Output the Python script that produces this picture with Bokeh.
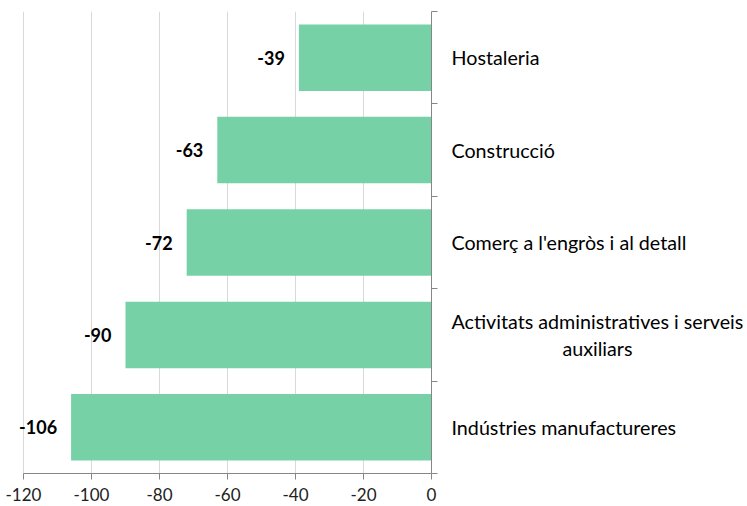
from bokeh.plotting import figure
from bokeh.models import FixedTicker, ColumnDataSource, Range1d
from bokeh.core.properties import value
from bokeh.embed import file_html
from bokeh.resources import INLINE

# data (bottom to top)
categories = ["Indústries manufactureres",
              "Activitats administratives i serveis\n" + "\u00a0" * 22 + "auxiliars",
              "Comerç a l'engròs i al detall",
              "Construcció",
              "Hostaleria"]
values = [-106, -90, -72, -63, -39]
x_ticks = [-120, -100, -80, -60, -40, -20, 0]

pos = [i + 0.5 for i in range(len(categories))]
src = ColumnDataSource(dict(y=pos, v=values, lbl=[str(v) for v in values]))

FONT = "Lato"
GRAY = "#868686"

p = figure(width=747, height=506, output_backend="svg", toolbar_location=None,
           x_range=Range1d(-122.35, 0), y_range=Range1d(0, len(categories)),
           y_axis_location="right",
           min_border_left=15, min_border_right=316, min_border_top=11, min_border_bottom=33)
p.outline_line_color = None

p.hbar(y="y", left=0, right="v", height=0.72, source=src,
       fill_color="#76D2A6", line_color=None)

p.text(x="v", y="y", text="lbl", source=src, x_offset=-14,
       text_align="right", text_baseline="middle",
       text_font=value(FONT), text_font_size="18px", text_font_style="bold",
       text_color="black")

# x axis
p.xaxis.ticker = FixedTicker(ticks=x_ticks)
p.xaxis.bounds = (x_ticks[0], x_ticks[-1])
p.xaxis.major_label_overrides = {t: str(t) for t in x_ticks}
p.xaxis.axis_line_color = GRAY
p.xaxis.major_tick_line_color = GRAY
p.xaxis.major_tick_in = 0
p.xaxis.major_tick_out = 6
p.xaxis.minor_tick_line_color = None
p.xaxis.major_label_text_font = FONT
p.xaxis.major_label_text_font_size = "17px"
p.xaxis.major_label_text_color = "#222222"
p.xaxis.major_label_standoff = 8

# y axis (at x=0): labels at category centres, tick marks at category boundaries
p.yaxis.ticker = FixedTicker(ticks=pos, minor_ticks=list(range(len(categories) + 1)))
p.yaxis.major_label_overrides = {y: c for y, c in zip(pos, categories)}
p.yaxis.axis_line_color = GRAY
p.yaxis.major_tick_line_color = None
p.yaxis.major_tick_in = 0
p.yaxis.major_tick_out = 0
p.yaxis.minor_tick_line_color = GRAY
p.yaxis.minor_tick_in = 0
p.yaxis.minor_tick_out = 6
p.yaxis.major_label_standoff = 14
p.yaxis.major_label_text_font = FONT
p.yaxis.major_label_text_font_size = "19.7px"
p.yaxis.major_label_text_color = "black"

p.xgrid.grid_line_color = "#D9D9D9"
p.ygrid.grid_line_color = None

open("out.html", "w").write(file_html(p, INLINE))
